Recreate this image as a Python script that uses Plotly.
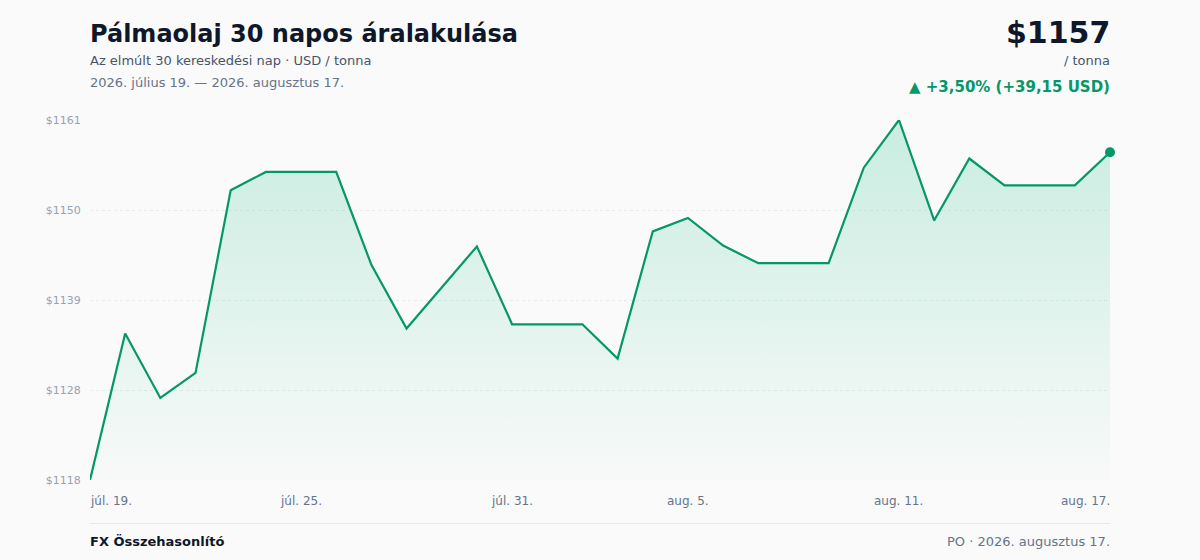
import pandas as pd
import plotly.graph_objects as go

# pálmaolaj záróárak, USD / tonna (30 nap)
dates = pd.date_range('2026-07-19', '2026-08-17', freq='D')
prices = [
    1118.00, 1135.5, 1127.8, 1130.8, 1152.6, 1154.8, 1154.8, 1154.8,
    1143.7, 1136.1, 1141.0, 1145.9, 1136.6, 1136.6, 1136.6, 1132.5,
    1147.7, 1149.3, 1146.0, 1143.9, 1143.9, 1143.9, 1155.3, 1161.0,
    1149.0, 1156.4, 1153.2, 1153.2, 1153.2, 1157.15,
]

y_ticks = [1118, 1128.75, 1139.5, 1150.25, 1161]
y_labels = ['$1118', '$1128', '$1139', '$1150', '$1161']

x_ticks = ['2026-07-19', '2026-07-25', '2026-07-31', '2026-08-05',
           '2026-08-11', '2026-08-17']
x_labels = ['júl. 19.', 'júl. 25.', 'júl. 31.', 'aug. 5.', 'aug. 11.',
            'aug. 17.']

GREEN = '#059669'
DARK = '#0f172a'
GRAY = '#475569'
LIGHT = '#64748b'
BG = '#fafafa'
FONT = 'DejaVu Sans, Verdana, sans-serif'

W, H = 1200, 560
M_L, M_R, M_T, M_B = 90, 90, 120, 80
PLOT_H = H - M_T - M_B


def py(px):
    # pixel y (felülről) -> paper y
    return (H - M_B - px) / PLOT_H


fig = go.Figure()

fig.add_trace(go.Scatter(
    x=dates, y=prices,
    mode='lines',
    line=dict(color=GREEN, width=2.2),
    fill='tozeroy',
    fillgradient=dict(
        type='vertical',
        start=y_ticks[0], stop=y_ticks[-1],
        colorscale=[[0, 'rgba(16,185,129,0.01)'],
                    [1, 'rgba(16,185,129,0.21)']],
    ),
    hovertemplate='%{x|%Y-%m-%d}<br>$%{y:.2f}<extra></extra>',
    cliponaxis=False,
))

fig.add_trace(go.Scatter(
    x=[dates[-1]], y=[prices[-1]],
    mode='markers',
    marker=dict(color=GREEN, size=10),
    hoverinfo='skip',
    cliponaxis=False,
))

annotations = []

# x tengely feliratai
for i, (tv, tl) in enumerate(zip(x_ticks, x_labels)):
    anchor, shift = 'center', 0
    if i == 0:
        anchor, shift = 'left', -2
    elif i == len(x_ticks) - 1:
        anchor, shift = 'right', 2
    annotations.append(dict(
        x=tv, xref='x', y=py(501), yref='paper', xshift=shift,
        text=tl, showarrow=False, xanchor=anchor, yanchor='middle',
        font=dict(size=12, color=LIGHT),
    ))


def left_text(text, y, size, color):
    return dict(x=0, xref='paper', y=py(y), yref='paper', xanchor='left',
                yanchor='middle', xshift=-2, showarrow=False, text=text,
                font=dict(size=size, color=color))


def right_text(text, y, size, color):
    return dict(x=1, xref='paper', y=py(y), yref='paper', xanchor='right',
                yanchor='middle', xshift=2, showarrow=False, text=text,
                font=dict(size=size, color=color))


# fejléc
annotations += [
    left_text('<b>Pálmaolaj 30 napos áralakulása</b>', 34, 24, DARK),
    left_text('Az elmúlt 30 kereskedési nap · USD / tonna', 61, 13, GRAY),
    left_text('2026. július 19. — 2026. augusztus 17.', 83, 13, LIGHT),
    right_text('<b>$1157</b>', 32, 30, DARK),
    right_text('/ tonna', 61, 13, GRAY),
    right_text('<b>▲ +3,50% (+39,15 USD)</b>', 87, 15, GREEN),
]

# lábléc
annotations += [
    left_text('<b>FX Összehasonlító</b>', 541, 13, DARK),
    right_text('PO · 2026. augusztus 17.', 541, 13, LIGHT),
]

fig.update_layout(
    width=W, height=H,
    margin=dict(l=M_L, r=M_R, t=M_T, b=M_B),
    paper_bgcolor=BG,
    plot_bgcolor=BG,
    font=dict(family=FONT, color=GRAY),
    showlegend=False,
    annotations=annotations,
    shapes=[dict(type='line', xref='paper', yref='paper',
                 x0=0, x1=1, y0=py(523.5), y1=py(523.5),
                 line=dict(color='#e5e7eb', width=1))],
    xaxis=dict(
        range=[dates[0], dates[-1]],
        showgrid=False, zeroline=False, showline=False,
        showticklabels=False, ticks='',
        fixedrange=True,
    ),
    yaxis=dict(
        range=[y_ticks[0], y_ticks[-1]],
        tickvals=y_ticks, ticktext=y_labels,
        showgrid=True, gridcolor='#e8eaee', griddash='dot', gridwidth=1,
        zeroline=False, showline=False,
        ticks='outside', ticklen=6, tickcolor='rgba(0,0,0,0)',
        tickfont=dict(size=11, color='#94a3b8'),
        fixedrange=True,
    ),
)

fig.write_html(
    'out.html',
    config=dict(displayModeBar=False),
    post_script="document.body.style.margin='0';"
                "document.body.style.background='#fafafa';",
)
